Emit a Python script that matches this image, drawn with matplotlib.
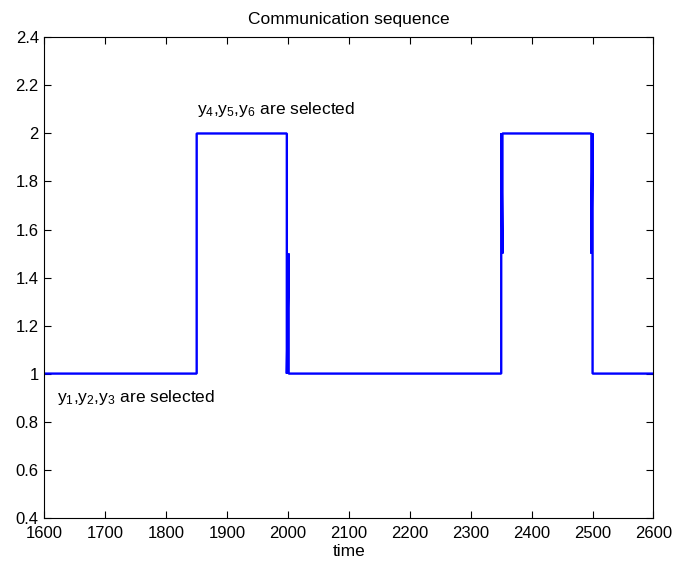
import numpy as np
import matplotlib
matplotlib.use('Agg')
import matplotlib.pyplot as plt
from matplotlib.ticker import FuncFormatter

# communication sequence (time, selected group level)
time = [1600, 1850, 1850, 1998, 1998, 2001, 2001, 2350, 2350, 2352, 2352,
        2498, 2498, 2500, 2500, 2600]
level = [1, 1, 2, 2, 1, 1.5, 1, 1, 2, 1.5, 2, 2, 1.5, 2, 1, 1]

xticks = np.arange(1600, 2601, 100)
yticks = np.arange(0.4, 2.41, 0.2)

plt.rcParams['font.family'] = ['Liberation Sans', 'DejaVu Sans']
plt.rcParams['mathtext.fontset'] = 'custom'
plt.rcParams['mathtext.rm'] = 'Liberation Sans'
plt.rcParams['mathtext.it'] = 'Liberation Sans'
plt.rcParams['mathtext.default'] = 'regular'

fig = plt.figure(figsize=(6.73, 5.67), dpi=100)
ax = fig.add_axes([0.066, 0.087, 0.905, 0.847])

ax.plot(time, level, color='#0000ff', lw=1.7,
        solid_joinstyle='bevel', solid_capstyle='butt')

ax.set_xlim(1600, 2600)
ax.set_ylim(0.4, 2.4)
ax.set_xticks(xticks)
ax.set_yticks(yticks)
ax.yaxis.set_major_formatter(FuncFormatter(lambda v, p: '%g' % round(v, 1)))
ax.tick_params(direction='in', length=5, width=0.8, top=True, right=True,
               labelsize=12, colors='black')
ax.tick_params(axis='x', pad=6)
ax.tick_params(axis='y', pad=4)
for s in ax.spines.values():
    s.set_linewidth(0.8)

ax.set_title('Communication sequence', fontsize=12.5, pad=10)
ax.set_xlabel('time', fontsize=12.5, labelpad=2)

ax.text(1850, 2.1, r'$y_4$,$y_5$,$y_6$ are selected', fontsize=12.5,
        va='center', ha='left')
ax.text(1620, 0.9, r'$y_1$,$y_2$,$y_3$ are selected', fontsize=12.5,
        va='center', ha='left')

fig.savefig('out.png', dpi=100)
